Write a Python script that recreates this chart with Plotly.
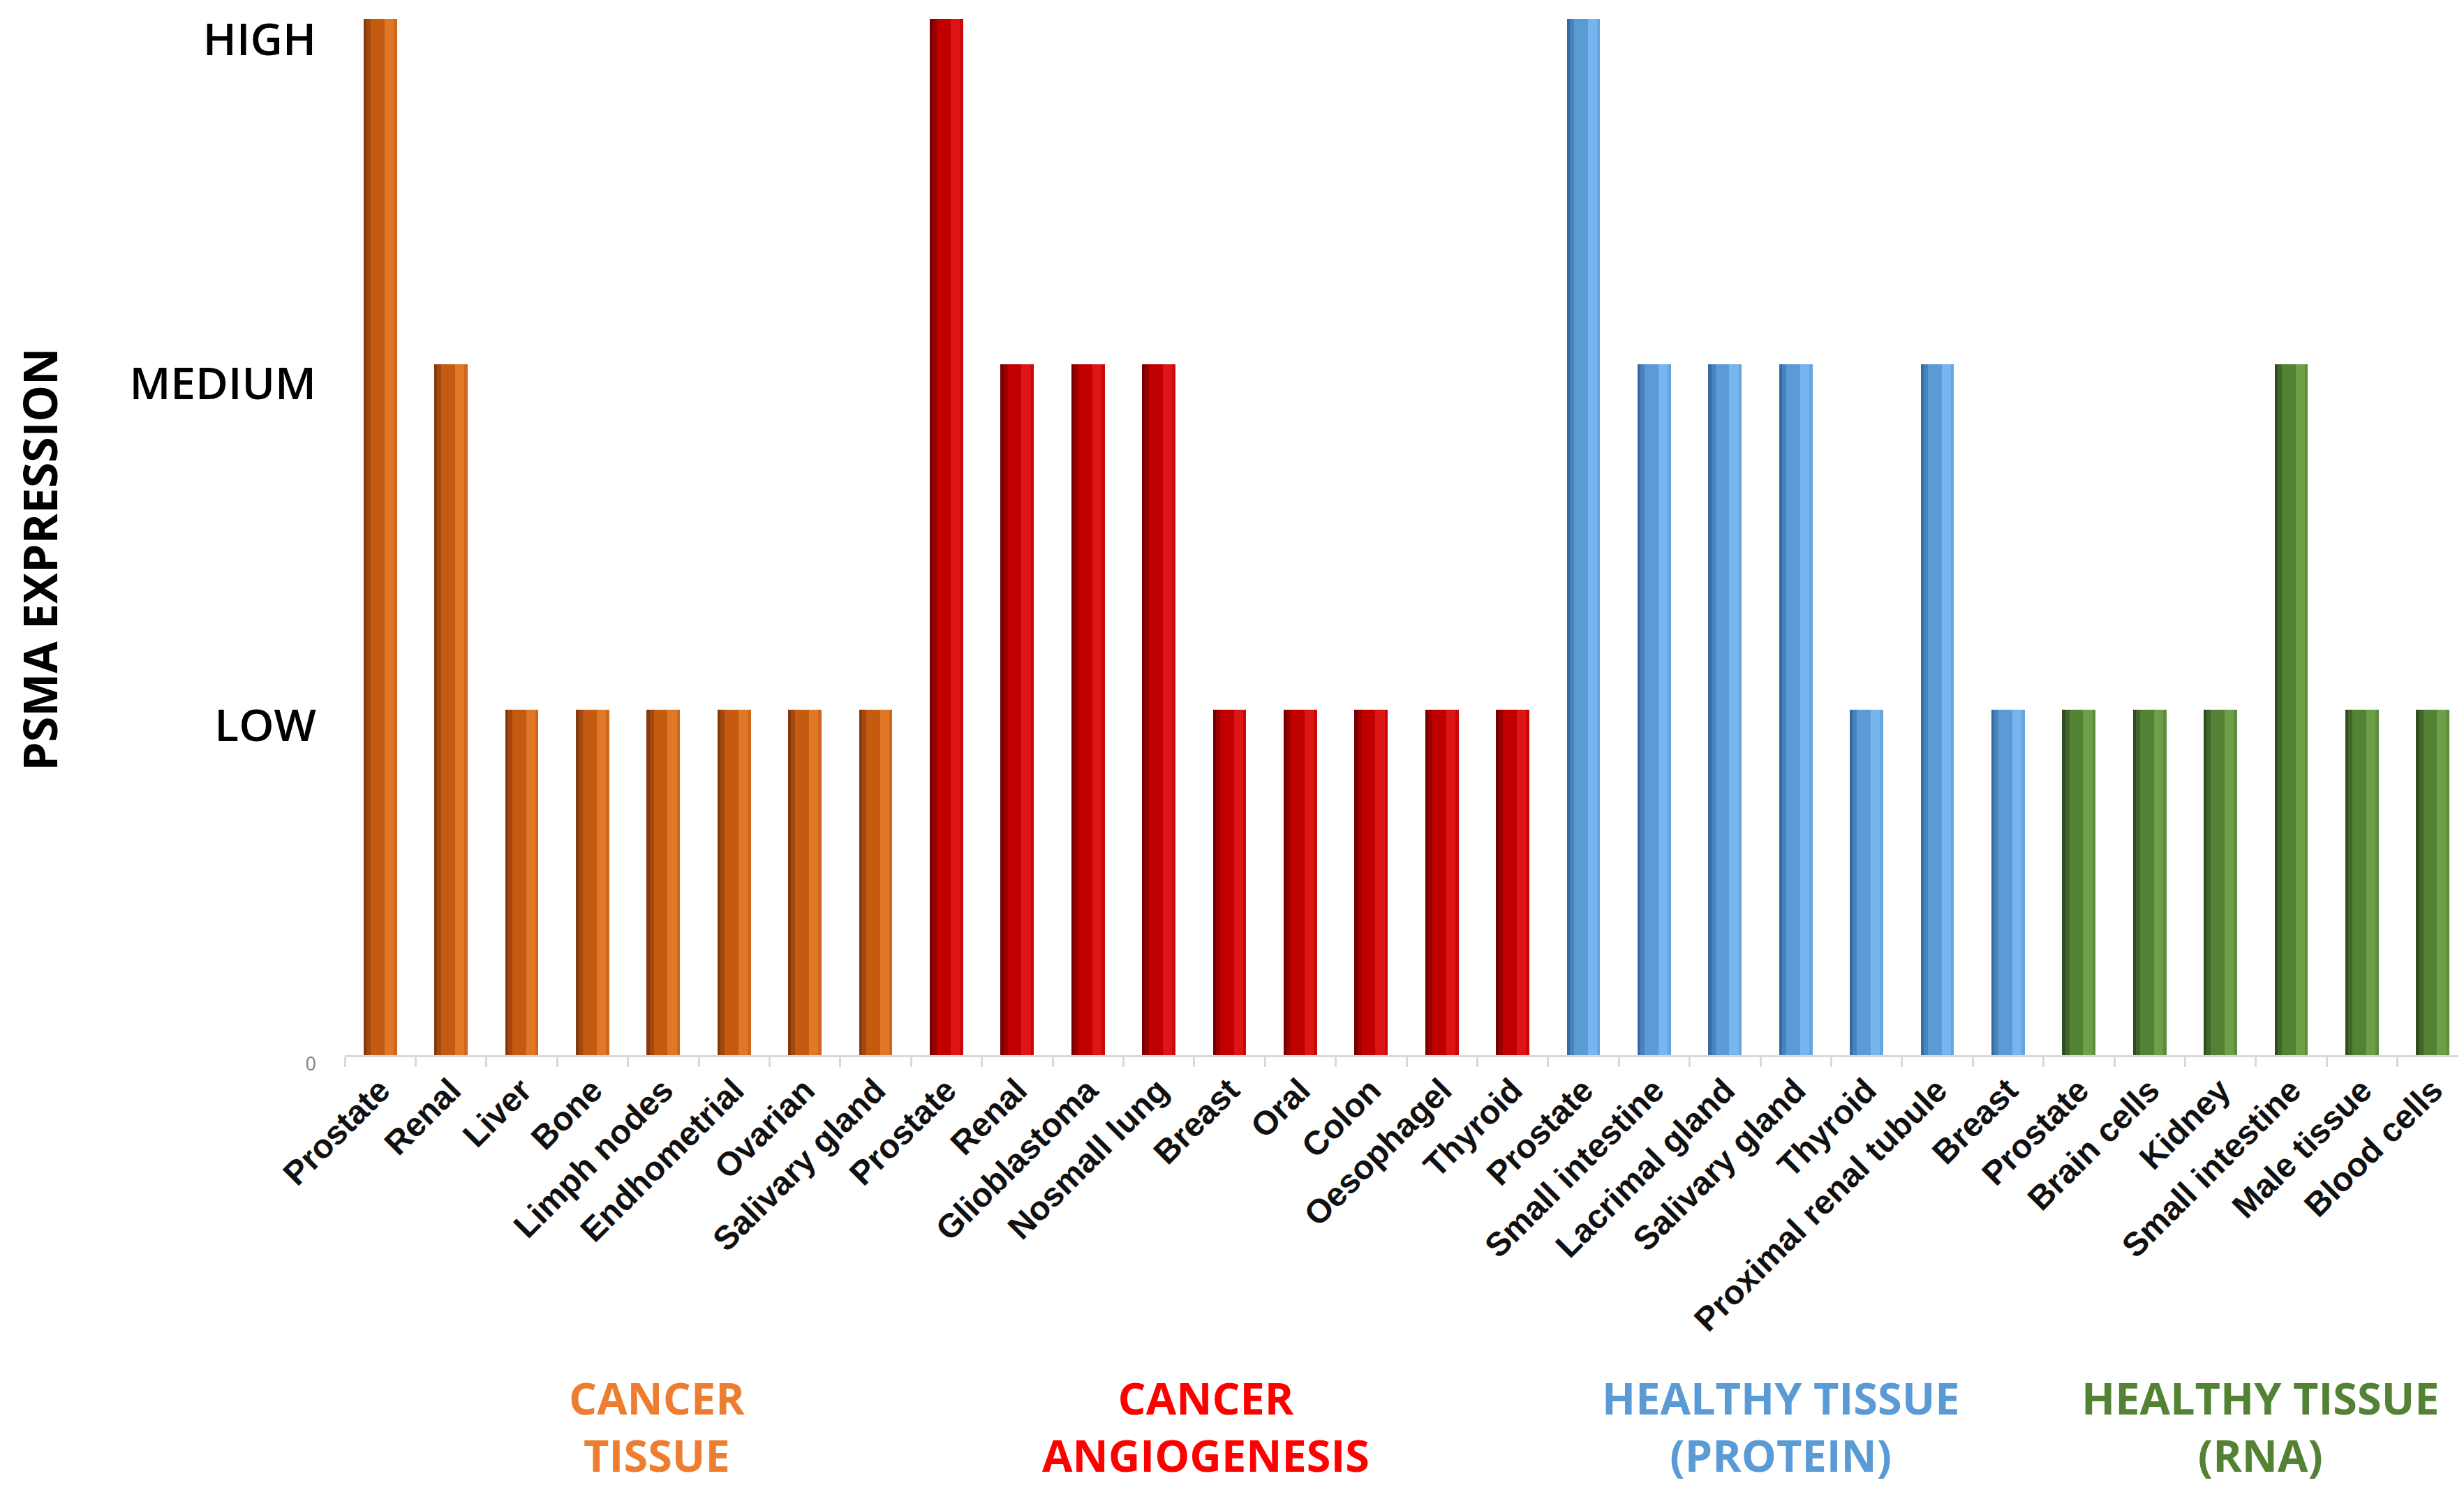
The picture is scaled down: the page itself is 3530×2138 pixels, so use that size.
import plotly.graph_objects as go

# PSMA expression per tissue, 1 = low, 2 = medium, 3 = high
cancer_tissue = ["Prostate", "Renal", "Liver", "Bone", "Limph nodes", "Endhometrial", "Ovarian", "Salivary gland"]
cancer_tissue_vals = [3, 2, 1, 1, 1, 1, 1, 1]

angiogenesis = ["Prostate", "Renal", "Glioblastoma", "Nosmall lung", "Breast", "Oral", "Colon", "Oesophagel", "Thyroid"]
angiogenesis_vals = [3, 2, 2, 2, 1, 1, 1, 1, 1]

healthy_protein = ["Prostate", "Small intestine", "Lacrimal gland", "Salivary gland", "Thyroid", "Proximal renal tubule", "Breast"]
healthy_protein_vals = [3, 2, 2, 2, 1, 2, 1]

healthy_rna = ["Prostate", "Brain cells", "Kidney", "Small intestine", "Male tissue", "Blood cells"]
healthy_rna_vals = [1, 1, 1, 2, 1, 1]

group_names = ["CANCER<br>TISSUE", "CANCER<br>ANGIOGENESIS", "HEALTHY TISSUE<br>(PROTEIN)", "HEALTHY TISSUE<br>(RNA)"]
level_text = ["0", "LOW", "MEDIUM", "HIGH"]
level_vals = [0, 0.955, 1.945, 2.94]  # labels sit a bit under their level

# bar shades: darkest edge, dark, main, highlight, right edge
shades = [
    ["#86390b", "#a3490f", "#c55a11", "#e07828", "#cf661b"],
    ["#760000", "#9a0000", "#c00000", "#de1515", "#cb0707"],
    ["#386ca1", "#4983bd", "#5b9bd5", "#78b5ee", "#66a5df"],
    ["#314d1d", "#426629", "#548235", "#6d9f48", "#5d8d3c"],
]
label_colors = ["#ed7d31", "#ff0000", "#5b9bd5", "#548235"]
label_x = [3.91, 11.66, 19.79, 26.57]

groups = [
    (cancer_tissue, cancer_tissue_vals),
    (angiogenesis, angiogenesis_vals),
    (healthy_protein, healthy_protein_vals),
    (healthy_rna, healthy_rna_vals),
]

W = 0.47
# strips of each bar (offset from centre, width) to fake the bevelled look
strips = [(-W / 2, W), (-W / 2, 0.04), (-W / 2 + 0.04, 0.06), (0.06, 0.13), (W / 2 - 0.045, 0.045)]
strip_color = [2, 0, 1, 3, 4]

fig = go.Figure()
names_all = []
start = 0
for g, (names, vals) in enumerate(groups):
    xs = list(range(start, start + len(names)))
    for (off, wid), ci in zip(strips, strip_color):
        fig.add_trace(go.Bar(
            x=xs, y=vals, offset=off, width=wid,
            marker=dict(color=shades[g][ci], line=dict(width=0)),
            showlegend=False, hoverinfo="skip" if ci != 2 else None,
        ))
    fig.add_annotation(
        x=label_x[g], xref="x", y=-0.358, yref="paper",
        text="<b>" + group_names[g] + "</b>", showarrow=False,
        font=dict(family="Open Sans", size=63, color=label_colors[g]),
        align="center", xanchor="center", yanchor="middle",
    )
    names_all += names
    start += len(names)

# y title
fig.add_annotation(
    x=-0.1438, xref="paper", y=0.478, yref="paper", text="<b>PSMA EXPRESSION</b>",
    textangle=-90, showarrow=False,
    font=dict(family="Open Sans", size=66, color="black"),
    xanchor="center", yanchor="middle",
)

ytext = ['<span style="font-size:27px;color:#7f7f7f;font-weight:normal">' + level_text[0] + '</span>'] + level_text[1:]

fig.update_layout(
    width=3530, height=2138,
    margin=dict(l=486, r=2, t=19, b=634),
    barmode="overlay", bargap=0,
    plot_bgcolor="white", paper_bgcolor="white",
    showlegend=False,
    xaxis=dict(
        range=[-0.5, len(names_all) - 0.5],
        tickmode="array", tickvals=list(range(len(names_all))), ticktext=names_all,
        tickangle=-45, ticks="",
        tickfont=dict(family="Liberation Sans, Arial", size=48, color="#111111", weight="bold"),
        showgrid=False, zeroline=False,
        showline=True, linecolor="#d9d9d9", linewidth=3,
        minor=dict(tickmode="linear", tick0=-0.5, dtick=1, ticks="outside",
                   ticklen=14, tickwidth=3, tickcolor="#d9d9d9", showgrid=False),
    ),
    yaxis=dict(
        range=[0, 3], tickmode="array", tickvals=level_vals, ticktext=ytext,
        tickfont=dict(family="Open Sans", size=64, color="black", weight=600),
        ticks="", showgrid=False, zeroline=False, showline=False,
        ticklabelstandoff=40,
    ),
)

fig.write_html("out.html")
